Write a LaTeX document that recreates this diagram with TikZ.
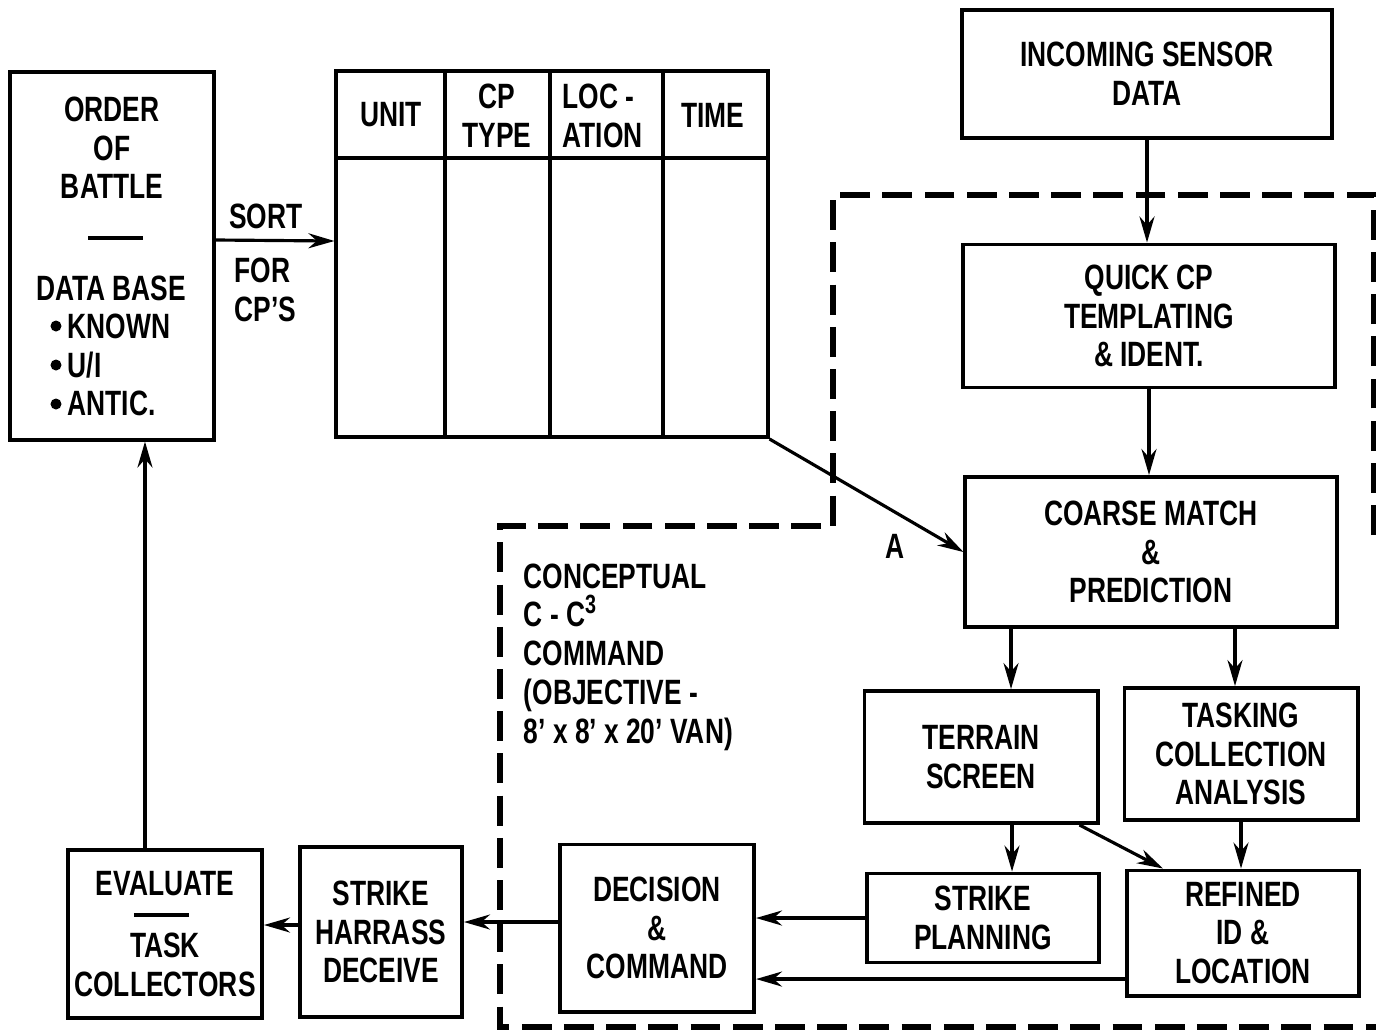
\documentclass[tikz,border=0pt]{standalone}
\usepackage{fontspec}
\setmainfont{Liberation Sans}[FakeStretch=0.75]
\usetikzlibrary{arrows.meta}

\newcommand{\cubed}{\raisebox{0.7ex}{\fontsize{7.5}{7.5}\selectfont 3}}

\tikzset{
  blk/.style={draw, line width=1.1pt, inner sep=0pt, align=center,
    font=\fontsize{10}{11}\selectfont\bfseries},
  lbl/.style={inner sep=0pt, font=\fontsize{10}{11}\selectfont\bfseries},
  arr/.style={-{Stealth[length=2.6mm,width=1.5mm]}, line width=0.9pt},
  bound/.style={line width=1.5pt, dash pattern=on 8.5pt off 3.5pt},
}

\begin{document}
\begin{tikzpicture}[x=0.01cm, y=-0.01cm]
  \useasboundingbox (0,0) rectangle (1376,1032);

  % left column
  \node[blk, minimum width=2.04cm, minimum height=3.67cm] (ob) at (112,256) {};
  \node[lbl, align=center] (obtitle) at (112,148) {ORDER\\OF\\BATTLE};
  \draw[line width=1pt] (88,238) -- (143,238);
  \node[lbl] (obdb) at (111,288) {DATA BASE};
  \node[lbl, align=left, anchor=west] (oblist) at (67,365) {KNOWN\\U/I\\ANTIC.};
  \foreach \y in {326,365,404} \fill (56,\y) circle (0.055cm);

  \node[lbl] (sort) at (266,216) {SORT};
  \node[lbl, align=left, anchor=west] (forcp) at (234,290) {FOR\\CP'S};

  % the table
  \node[blk, minimum width=4.31cm, minimum height=3.66cm] (tab) at (552,254) {};
  \draw[line width=1.1pt] (tab.west |- 0,158) -- (tab.east |- 0,158);
  \foreach \x in {445,550,663} \draw[line width=1.1pt] (\x,71) -- (\x,437);
  \node[lbl] (hunit) at (391,115) {UNIT};
  \node[lbl, align=center] (htype) at (497,116) {CP\\TYPE};
  \node[lbl, align=left, anchor=west] (hloc) at (562,116) {LOC -\\ATION};
  \node[lbl] (htime) at (713,115) {TIME};

  % right column
  \node[blk, minimum width=3.70cm, minimum height=1.28cm] (sensor) at (1147,74) {INCOMING SENSOR\\DATA};
  \node[blk, minimum width=3.72cm, minimum height=1.43cm] (quick) at (1149,316) {QUICK CP\\TEMPLATING\\\& IDENT.};
  \node[blk, minimum width=3.71cm, minimum height=1.50cm] (coarse) at (1151,552) {COARSE MATCH\\\&\\PREDICTION};
  \node[blk, minimum width=2.33cm, minimum height=1.32cm] (terrain) at (981,757) {TERRAIN\\SCREEN};
  \node[blk, minimum width=2.33cm, minimum height=1.32cm] (tasking) at (1241,754) {TASKING\\COLLECTION\\ANALYSIS};
  \node[blk, minimum width=2.32cm, minimum height=0.89cm] (splan) at (983,918) {STRIKE\\PLANNING};
  \node[blk, minimum width=2.32cm, minimum height=1.25cm] (refined) at (1243,933) {REFINED\\ID \&\\LOCATION};

  % bottom row
  \node[blk, minimum width=1.94cm, minimum height=1.67cm] (decision) at (657,928) {DECISION\\\&\\COMMAND};
  \node[blk, minimum width=1.62cm, minimum height=1.70cm] (shd) at (381,932) {STRIKE\\HARRASS\\DECEIVE};
  \node[blk, minimum width=1.94cm, minimum height=1.68cm] (eval) at (165,934) {EVALUATE\\[0.23cm]TASK\\COLLECTORS};
  \draw[line width=1pt] ([xshift=-0.31cm,yshift=0.19cm]eval.center) -- ([xshift=0.24cm,yshift=0.19cm]eval.center);

  \node[lbl, align=left, anchor=west] (concept) at (523,657)
    {CONCEPTUAL\\C - C\cubed\\COMMAND\\(OBJECTIVE -\\8' x 8' x 20' VAN)};
  \node[lbl] (a) at (895,546) {A};

  % van boundary
  \draw[bound] (1374,535) -- (1374,195) -- (833,195) -- (833,526) -- (500,526) -- (500,1027) -- (1376,1027);

  % flow
  \draw[arr] ([yshift=0.16cm]ob.east) -- ([yshift=0.13cm]tab.west);
  \draw[arr] (sensor.south) -- (sensor.south |- quick.north);
  \draw[arr] (quick.south) -- (quick.south |- coarse.north);
  \draw[arr] (tab.south east) -- (coarse.west);
  \draw[arr] ([xshift=0.3cm]terrain.north |- coarse.south) -- ([xshift=0.3cm]terrain.north);
  \draw[arr] ([xshift=-0.06cm]tasking.north |- coarse.south) -- ([xshift=-0.06cm]tasking.north);
  \draw[arr] ([xshift=0.31cm]terrain.south) -- ([xshift=0.31cm]terrain.south |- splan.north);
  \draw[arr] ([xshift=-0.2cm]terrain.south east) -- ([xshift=0.38cm]refined.north west);
  \draw[arr] (tasking.south) -- (tasking.south |- refined.north);
  \draw[arr] (splan.west) -- (splan.west -| decision.east);
  \draw[arr] ([yshift=-0.46cm]refined.west) -- ([yshift=-0.46cm]refined.west -| decision.east);
  \draw[arr] ([yshift=0.06cm]decision.west) -- ([yshift=0.06cm]decision.west -| shd.east);
  \draw[arr] ([yshift=0.07cm]shd.west) -- ([yshift=0.07cm]shd.west -| eval.east);
  \draw[arr] ([xshift=-0.2cm]eval.north) -- ([xshift=-0.2cm]eval.north |- ob.south);
\end{tikzpicture}
\end{document}
